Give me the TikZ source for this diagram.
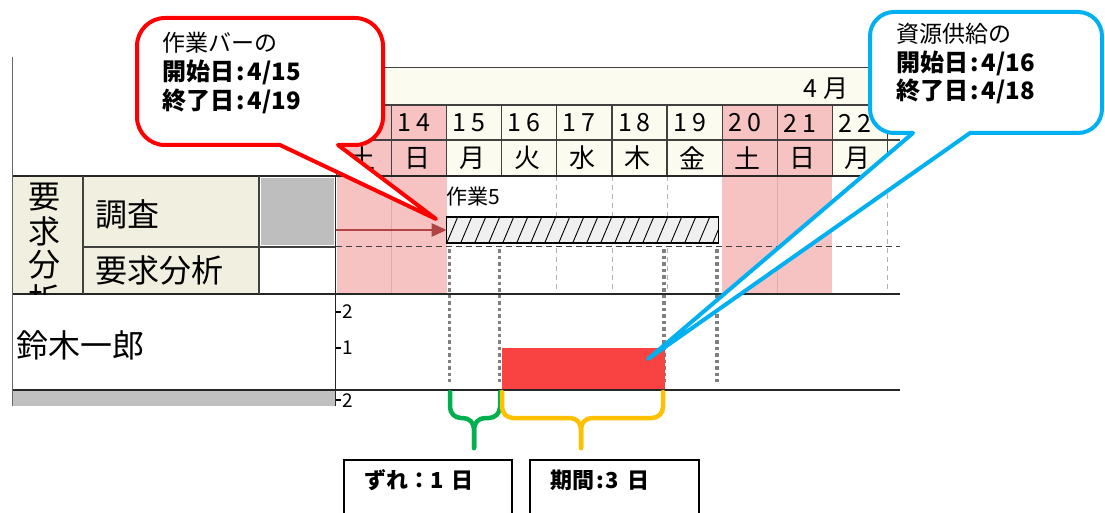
\documentclass[tikz,border=0pt]{standalone}
\usepackage{fontspec}
\setmainfont{Noto Sans CJK JP}
\usetikzlibrary{arrows.meta}
\definecolor{pinkc}{HTML}{F7C2C2}
\definecolor{pinkline}{HTML}{E3AAAA}
\definecolor{creamc}{HTML}{FCFBEF}
\definecolor{cellc}{HTML}{F1EFDF}
\definecolor{boxgray}{HTML}{BEBEBE}
\definecolor{rowgray}{HTML}{C0C0C0}
\definecolor{calred}{HTML}{FF0000}
\definecolor{calblue}{HTML}{00B0F0}
\definecolor{brgreen}{HTML}{00B050}
\definecolor{bryellow}{HTML}{FFC000}
\definecolor{resred}{HTML}{F94343}
\definecolor{arrowred}{HTML}{B04444}
\definecolor{dotgray}{HTML}{808080}
\newcommand\myfs[1]{\fontsize{#1}{#1}\selectfont}
\newcommand\daynum[2]{\makebox[19pt]{#1}\makebox[19pt]{#2}}
\begin{document}
\begin{tikzpicture}[x=1pt,y=-1pt,
  grid/.style={draw=black!75,line width=1.2pt},
  frame/.style={draw=black!85,line width=1.6pt},
  lightdash/.style={draw=black!30,line width=1pt,dash pattern=on 5pt off 4pt},
  rowdash/.style={draw=black!75,line width=1.5pt,dash pattern=on 6pt off 4pt},
  graydot/.style={draw=dotgray,line width=3.5pt,dash pattern=on 3.5pt off 3pt},
  hdr/.style={inner sep=0pt,font=\myfs{25}},
  wd/.style={inner sep=0pt,font=\myfs{26}},
  lab/.style={inner sep=0pt,anchor=west,font=\myfs{32}},
  tick/.style={inner sep=0pt,font=\myfs{19}},
  calltext/.style={inner sep=0pt,anchor=west,font=\myfs{23}},
  callbold/.style={inner sep=0pt,anchor=west,font=\myfs{24}\bfseries},
  callred/.style={draw=calred,line width=4pt,fill=white,line join=round},
  callblue/.style={draw=calblue,line width=4pt,fill=white,line join=round},
  brace/.style={line width=4.5pt,rounded corners=11pt,line cap=round},
  infobox/.style={draw=black,line width=1.5pt,minimum height=64pt,anchor=north west,inner sep=0pt},
  infotext/.style={inner sep=0pt,anchor=west,font=\myfs{22}\bfseries},
]
\useasboundingbox (0,0) rectangle (1105,513);

\begin{scope}
\clip (0,50) rectangle (901,406);
% backgrounds
\fill[creamc] (336.6,67.5) rectangle (900,176);
\fill[pinkc] (336.6,176) rectangle (446.7,294);
\fill[pinkc] (722.1,176) rectangle (832.2,294);
\fill[cellc] (12.7,176) rectangle (259,294);
\fill[boxgray] (260.5,178) rectangle (334,245);
\fill[rowgray] (12.7,390) rectangle (335.5,406);
% header cells
\foreach \i/\a/\b/\wdn/\we in {0/1/3/土/1,1/1/4/日/1,2/1/5/月/0,3/1/6/火/0,4/1/7/水/0,5/1/8/木/0,6/1/9/金/0,7/2/0/土/1,8/2/1/日/1,9/2/2/月/0,10/2/3/火/0}{
  \pgfmathsetmacro\xl{336.6+\i*55.07}
  \pgfmathsetmacro\xc{\xl+27.5}
  \ifnum\we=1 \fill[pinkc] (\xl,105) rectangle ++(55.07,71); \fi
  \draw[grid] (\xl,105) -- (\xl,176);
  \node[hdr] (day\i) at (\xc-5,123) {\daynum{\a}{\b}};
  \node[wd] (wk\i) at (\xc-2,158) {\wdn};
}
\node[hdr,anchor=east] (month) at (849,89) {4\kern6pt 月};
% lines inside gantt
\draw[draw=pinkline,line width=1pt] (391.7,176) -- (391.7,294);
\draw[draw=pinkline,line width=1pt] (777.2,176) -- (777.2,294);
\foreach \x in {556.9,612,667,887.3}{\draw[lightdash] (\x,176) -- (\x,294);}
\draw[rowdash] (336,246.5) -- (900,246.5);
% grid lines
\draw[grid] (336.6,67.5) -- (900,67.5);
\draw[grid] (336.6,105) -- (900,105);
\draw[grid] (336.6,140) -- (900,140);
\draw[frame] (12.7,176) -- (900,176);
\draw[frame] (12.7,294) -- (900,294);
\draw[frame] (12.7,390) -- (900,390);
\draw[grid] (83,247) -- (335.5,247);
\draw[draw=black!60,line width=1.5pt] (12.7,57) -- (12.7,406);
\draw[grid] (83,176) -- (83,294);
\draw[grid] (259,176) -- (259,294);
\draw[frame] (335.5,176) -- (335.5,406);
\foreach \y in {312,348,400}{\draw[line width=1.2pt] (335.5,\y) -- (341,\y);}
\node[tick] (t2) at (348,312) {2};
\node[tick] (t1) at (348,348) {1};
\node[tick] (t2b) at (348,401) {2};
% left labels
\node[lab] (chosa) at (95,214) {調査};
\node[lab] (yokyu) at (95,270) {要求分析};
\node[lab] (suzuki) at (16,345) {鈴木一郎};
\begin{scope}
\clip (12.7,176) rectangle (83,294);
\foreach \c/\y/\n in {要/197/1,求/231/2,分/265/3,析/299/4}{\node[inner sep=0pt,font=\myfs{32}] (v\n) at (44,\y) {\c};}
\end{scope}
% task bar
\node[inner sep=0pt,anchor=west,font=\myfs{21}] (task5) at (446,197) {作業5};
\foreach \x/\n in {449.5/a,499.6/b,663.8/c,716.8/d}{
  \coordinate (dt\n) at (\x,249);
  \coordinate (db\n) at (\x,382);
  \draw[graydot] (dt\n) -- (db\n);
}
\node[draw=black,line width=1.5pt,fill=black!6,minimum width=272pt,minimum height=26pt,inner sep=0pt,outer sep=0pt,anchor=north west,
  path picture={\foreach \k in {-1,...,20}{\draw[line width=0.9pt] ([xshift=\k*14pt]path picture bounding box.south west) -- ++(11pt,26pt);}}] (bar) at (446.7,217) {};
\coordinate (astart) at (336,230);
\draw[-{Triangle[length=15pt,width=13pt]},draw=arrowred,fill=arrowred,line width=2.2pt] (astart) -- (bar.west);
\node[fill=resred,minimum width=163pt,minimum height=41pt,inner sep=0pt,anchor=north west] (res) at (501.8,348) {};
\end{scope}

% callouts
\coordinate (rtip) at (436,219);
\draw[callred] (165,18) -- (355,18) arc[start angle=90,end angle=0,radius=28pt] -- (383,117) arc[start angle=0,end angle=-90,radius=28pt] -- (338,145) -- (rtip) -- (280,145) -- (165,145) arc[start angle=270,end angle=180,radius=28pt] -- (137,46) arc[start angle=180,end angle=90,radius=28pt] -- cycle;
\node[calltext] (r1) at (162,43) {作業バーの};
\node[callbold] (r2) at (162,72) {開始日\kern2pt:\kern3pt 4/15};
\node[callbold] (r3) at (162,101) {終了日\kern2pt:\kern3pt 4/19};

\coordinate (btip) at (648,359);
\draw[callblue] (894,12) -- (1078,12) arc[start angle=90,end angle=0,radius=24pt] -- (1102,109) arc[start angle=0,end angle=-90,radius=24pt] -- (970,133) -- (btip) -- (913,133) -- (894,133) arc[start angle=270,end angle=180,radius=24pt] -- (870,36) arc[start angle=180,end angle=90,radius=24pt] -- cycle;
\node[calltext] (b1) at (896,34) {資源供給の};
\node[callbold] (b2) at (896,63) {開始日\kern2pt:\kern3pt 4/16};
\node[callbold] (b3) at (896,91) {終了日\kern2pt:\kern3pt 4/18};

% braces
\coordinate (gl) at (450,392);
\coordinate (gr) at (500,392);
\coordinate (gtip) at (474,448);
\draw[brace,draw=brgreen] (gl) -- (450,418) -- (474,418) -- (gtip);
\draw[brace,draw=brgreen] (gr) -- (500,418) -- (474,418) -- (gtip);
\coordinate (yl) at (502,392);
\coordinate (yr) at (663,392);
\coordinate (ytip) at (581,448);
\draw[brace,draw=bryellow] (yl) -- (502,418) -- (581,418) -- (ytip);
\draw[brace,draw=bryellow] (yr) -- (663,418) -- (581,418) -- (ytip);

% info boxes
\node[infobox,minimum width=168pt] (zure) at (343,459) {};
\node[infotext] (zuretxt) at (364,480) {ずれ：1\kern8pt 日};
\node[infobox,minimum width=169pt] (kikan) at (529,459) {};
\node[infotext] (kikantxt) at (550,480) {期間\kern2pt:\kern2pt 3\kern8pt 日};
\end{tikzpicture}
\end{document}
